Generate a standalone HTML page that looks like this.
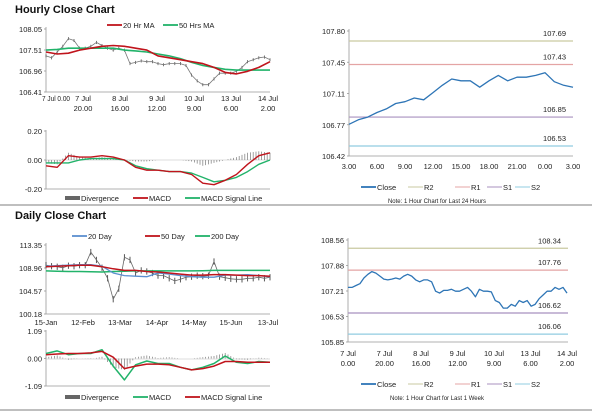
<!DOCTYPE html>
<html><head><meta charset="utf-8"><style>
body{margin:0;background:#fff;}
svg{display:block;font-family:"Liberation Sans",sans-serif;}
.t{font-size:7.5px;fill:#222;}
.h{font-size:11px;font-weight:bold;fill:#111;}
</style></head><body>
<svg id="s" width="600" height="413" viewBox="0 0 600 413">
<text class="h" x="15" y="13">Hourly Close Chart</text>
<text class="h" x="15" y="219">Daily Close Chart</text>
<line x1="0" y1="205" x2="592" y2="205" stroke="#999" stroke-width="1.2"/>
<line x1="0" y1="410" x2="592" y2="410" stroke="#999" stroke-width="1.2"/>
<g id="g"></g>
</svg>
<script>
// ---- data ----
const hourlyClose=[107.35,107.3,107.45,107.6,107.8,107.75,107.55,107.55,107.6,107.7,107.62,107.55,107.5,107.55,107.5,107.15,107.18,107.22,107.2,107.2,107.15,107.12,107.15,107.15,107.15,107.1,106.85,106.7,106.6,106.6,106.75,106.9,106.9,106.9,106.95,107.05,107.2,107.25,107.3,107.32,107.25];
const hourlyMA20=[107.45,107.4,107.42,107.5,107.55,107.6,107.62,107.6,107.55,107.5,107.35,107.3,107.25,107.2,107.15,107.05,106.92,106.88,106.95,107.05,107.2];
const hourlyMA50=[107.5,107.52,107.55,107.55,107.55,107.55,107.55,107.5,107.48,107.45,107.4,107.35,107.28,107.18,107.1,107.05,107.0,106.98,106.98,106.98,106.98];
const hourlyMacd=[-0.04,-0.05,0.03,0.02,0.02,0.03,0.02,0.0,-0.05,-0.07,-0.07,-0.08,-0.08,-0.1,-0.16,-0.17,-0.14,-0.1,-0.03,0.03,0.05];
const hourlySignal=[-0.02,-0.02,-0.02,0.0,0.01,0.01,0.01,0.0,-0.04,-0.06,-0.07,-0.08,-0.08,-0.09,-0.12,-0.15,-0.14,-0.12,-0.08,-0.03,0.0];
const dailyClose=[109.5,109.3,109.2,109.0,109.4,109.3,109.5,109.5,112.0,110.5,109.0,107.0,103.0,105.0,111.0,110.5,108.0,108.5,108.3,108.0,107.5,107.5,107.0,106.5,106.8,107.2,107.3,107.5,107.4,107.5,110.2,107.3,107.1,106.9,106.8,106.8,107.0,107.0,107.2,107.0,107.2];
const daily20=[109.3,109.4,109.5,109.6,109.6,109.3,108.0,107.5,107.4,107.3,108.0,107.8,107.5,107.3,107.2,107.2,107.6,107.6,107.7,107.5,107.3];
const daily50=[109.2,109.3,109.4,109.5,109.5,109.2,108.8,108.5,108.5,108.3,108.2,108.0,107.8,107.6,107.6,107.7,107.7,107.6,107.5,107.5,107.4];
const daily200=[108.4,108.35,108.3,108.3,108.25,108.2,108.3,108.35,108.4,108.4,108.4,108.4,108.4,108.4,108.45,108.5,108.5,108.5,108.5,108.5,108.5];
const dailyMacd=[0.2,0.3,0.15,0.2,0.2,0.35,-0.3,-0.85,-0.25,-0.1,-0.2,-0.2,-0.35,-0.45,-0.35,-0.2,0.1,-0.15,-0.2,-0.12,-0.15];
const dailySignal=[0.15,0.18,0.2,0.2,0.22,0.28,0.05,-0.4,-0.3,-0.22,-0.22,-0.25,-0.35,-0.45,-0.4,-0.3,-0.12,-0.12,-0.15,-0.15,-0.15];
const dayClose=[106.77,106.82,106.85,106.9,106.94,107.0,107.02,107.06,107.04,107.12,107.2,107.27,107.25,107.25,107.18,107.25,107.31,107.25,107.29,107.29,107.31,107.34,107.24,107.2,107.18];
const dayLevels=[107.69,107.43,106.85,106.53];
const weekClose=[107.3,107.3,107.35,107.4,107.55,107.65,107.72,107.68,107.6,107.52,107.5,107.52,107.55,107.52,107.6,107.65,107.6,107.5,107.45,107.5,107.5,107.45,107.2,107.15,107.22,107.22,107.25,107.2,107.2,107.25,107.3,107.2,107.05,107.25,107.2,107.2,107.18,106.95,106.9,106.75,106.75,106.85,106.8,106.95,106.9,106.95,106.8,106.85,107.0,107.1,107.2,107.2,107.3,107.25,107.3,107.15];
const weekLevels=[108.34,107.76,106.62,106.06];
const levelNames=['R2','R1','S1','S2'];
const levelColors=['#c9c9a0','#e4a4a4','#a890bf','#90cce0'];
const hourlyYTicks=['108.05','107.51','106.96','106.41'];
const hourlyXTicks=[['7 Jul 0.00',''],['7 Jul','20.00'],['8 Jul','16.00'],['9 Jul','12.00'],['10 Jul','9.00'],['13 Jul','6.00'],['14 Jul','2.00']];
const dailyYTicks=['113.35','108.96','104.57','100.18'];
const dailyXTicks=['15-Jan','12-Feb','13-Mar','14-Apr','14-May','15-Jun','13-Jul'];
const dayYTicks=['107.80','107.45','107.11','106.77','106.42'];
const dayXTicks=['3.00','6.00','9.00','12.00','15.00','18.00','21.00','0.00','3.00'];
const weekYTicks=['108.56','107.88','107.21','106.53','105.85'];

// ---- helpers ----
const NS='http://www.w3.org/2000/svg',G=document.getElementById('g');
function el(t,a,p){const e=document.createElementNS(NS,t);for(const k in a)e.setAttribute(k,a[k]);(p||G).appendChild(e);return e;}
function txt(x,y,s,anchor,name){const e=el('text',{x:x,y:y,'class':'t','text-anchor':anchor||'start'});e.textContent=s;


return e;}
function scale(d0,d1,r0,r1){return v=>r0+(v-d0)/(d1-d0)*(r1-r0);}
function line(arr,xs,ys,color,w,name){let d='';arr.forEach((v,i)=>{d+=(i?'L':'M')+xs(i/(arr.length-1)).toFixed(1)+','+ys(v).toFixed(1);});
const p=el('path',{d:d,fill:'none',stroke:color,'stroke-width':w,'stroke-linejoin':'round'});


return p;}
function axes(x0,x1,y0,y1,name){const a=el('path',{d:`M${x0},${y0}V${y1}H${x1}`,fill:'none',stroke:'#999','stroke-width':0.8});

}
function yticks(labels,x0,y0,y1,name){labels.forEach((l,i)=>{const y=y0+i*(y1-y0)/(labels.length-1);txt(x0-4,y+3,l,'end',name);el('line',{x1:x0-2,x2:x0,y1:y,y2:y,stroke:'#999','stroke-width':0.8});});}
function legend(items,y,name){items.forEach(it=>{const l=el('line',{x1:it[0],x2:it[0]+15,y1:y,y2:y,stroke:it[2],'stroke-width':it[3]||1.8});


txt(it[0]+16,y+3,it[1],'start',name);});}
function bars(a,b,xs,ys,name){a.forEach((v,i)=>{const n=a.length-1;for(let k=0;k<4;k++){if(i==n&&k>0)break;const f=(i+k/4)/n;const vv=k==0?v-b[i]:(v-b[i])*(1-k/4)+(a[i+1]-b[i+1])*(k/4);
const r=el('line',{x1:xs(f),x2:xs(f),y1:ys(0),y2:ys(vv),stroke:'#888','stroke-width':0.8});

}});}

// ---- hourly price ----
let xs=scale(0,1,46,270),ys=scale(106.41,108.05,92,29);
axes(46,270,27,92,'hourly-price-axes');yticks(hourlyYTicks,46,29,92,'hourly-y-tick');
hourlyXTicks.forEach((t,i)=>{const x=46+i*(268-46)/6;const e=txt(i==0?42:x,101,t[0],i==0?'start':'middle','hourly-x-tick');if(i==0){e.setAttribute('textLength','28');e.setAttribute('lengthAdjust','spacingAndGlyphs');}if(t[1])txt(x,111,t[1],'middle','hourly-x-tick');});
hourlyClose.forEach((v,i)=>{const x=xs(i/(hourlyClose.length-1));const c=el('line',{x1:x,x2:x,y1:ys(v+0.04),y2:ys(v-0.04),stroke:'#555','stroke-width':0.8});

});
line(hourlyClose,xs,ys,'#777',0.8,'hourly-close-line');
line(hourlyMA50,xs,ys,'#22b36a',1.6,'hourly-ma50-line');
line(hourlyMA20,xs,ys,'#c0141c',1.6,'hourly-ma20-line');
legend([[107,'20 Hr MA','#c0141c'],[163,'50 Hrs MA','#22b36a']],25,'hourly-legend');
// hourly macd
ys=scale(-0.2,0.2,189,131);
axes(46,270,130,189,'hourly-macd-axes');el('line',{x1:46,x2:270,y1:160,y2:160,stroke:'#bbb','stroke-width':0.6});
yticks(['0.20','0.00','-0.20'],46,131,189,'hourly-macd-y-tick');
bars(hourlyMacd,hourlySignal,xs,ys,'hourly-divergence-bar');
line(hourlySignal,xs,ys,'#22b36a',1.4,'hourly-signal-line');
line(hourlyMacd,xs,ys,'#c0141c',1.4,'hourly-macd-line');
legend([[65,'Divergence','#666',4],[133,'MACD','#c0141c'],[185,'MACD Signal Line','#22b36a']],198,'hourly-macd-legend');

// ---- daily price ----
ys=scale(100.18,113.35,314,245);
axes(46,270,243,314,'daily-price-axes');yticks(dailyYTicks,46,245,314,'daily-y-tick');
dailyXTicks.forEach((t,i)=>txt(46+i*(268-46)/6,325,t,'middle','daily-x-tick'));
dailyClose.forEach((v,i)=>{const x=xs(i/(dailyClose.length-1));const c=el('line',{x1:x,x2:x,y1:ys(v+0.6),y2:ys(v-0.6),stroke:'#444','stroke-width':0.9});

});
line(dailyClose,xs,ys,'#666',0.8,'daily-close-line');
line(daily200,xs,ys,'#22b36a',1.5,'daily-ma200-line');
line(daily20,xs,ys,'#5b8fd0',1.3,'daily-ma20-line');
line(daily50,xs,ys,'#c0141c',1.5,'daily-ma50-line');
legend([[72,'20 Day','#5b8fd0'],[145,'50 Day','#c0141c'],[195,'200 Day','#22b36a']],236,'daily-legend');
// daily macd
ys=scale(-1.09,1.09,386,331);
axes(46,270,330,386,'daily-macd-axes');el('line',{x1:46,x2:270,y1:359,y2:359,stroke:'#bbb','stroke-width':0.6});
yticks(['1.09','0.00','-1.09'],46,331,386,'daily-macd-y-tick');
bars(dailyMacd,dailySignal,xs,ys,'daily-divergence-bar');
line(dailyMacd,xs,ys,'#22b36a',1.5,'daily-macd-line');
line(dailySignal,xs,ys,'#c0141c',1.5,'daily-signal-line');
legend([[65,'Divergence','#666',4],[133,'MACD','#22b36a'],[185,'MACD Signal Line','#c0141c']],397,'daily-macd-legend');

// ---- pivot charts ----
function pivot(data,levels,yLab,ymin,ymax,y0,y1,x0,x1,xend,ln,nm){
 const sx=scale(0,1,x0,xend),sy=scale(ymin,ymax,y1,y0);
 axes(x0,x1,y0-2,y1,nm+'-axes');yticks(yLab,x0,y0,y1,nm+'-y-tick');
 levels.forEach((v,i)=>{const l=el('line',{x1:x0,x2:x1,y1:sy(v),y2:sy(v),stroke:levelColors[i],'stroke-width':1.2});
 
 
 txt(x1-7,sy(v)-5,v.toFixed(2),'end',nm+'-level-label');});
 line(data,sx,sy,'#2e75b6',1.3,nm+'-close-line');
 legend([[361,'Close','#2e75b6'],[408,'R2',levelColors[0],1],[455,'R1',levelColors[1],1],[487,'S1',levelColors[2],1],[515,'S2',levelColors[3],1]],ln,nm+'-legend');
}
pivot(dayClose,dayLevels,dayYTicks,106.42,107.80,31,156,349,573,573,187,'day');
dayXTicks.forEach((t,i)=>txt(349+i*224/8,169,t,'middle','day-x-tick'));
txt(437,203,'Note: 1 Hour Chart for Last 24 Hours','middle','day-note').style.fontSize='6px';
pivot(weekClose,weekLevels,weekYTicks,105.85,108.56,240,342,348,568,567,384,'week');
hourlyXTicks.forEach((t,i)=>{const x=348+i*(567-348)/6;txt(x,356,i==0?'7 Jul':t[0],'middle','week-x-tick');txt(x,366,i==0?'0.00':t[1],'middle','week-x-tick');});
txt(437,400,'Note: 1 Hour Chart for Last 1 Week','middle','week-note').style.fontSize='6px';
</script>
</body></html>
